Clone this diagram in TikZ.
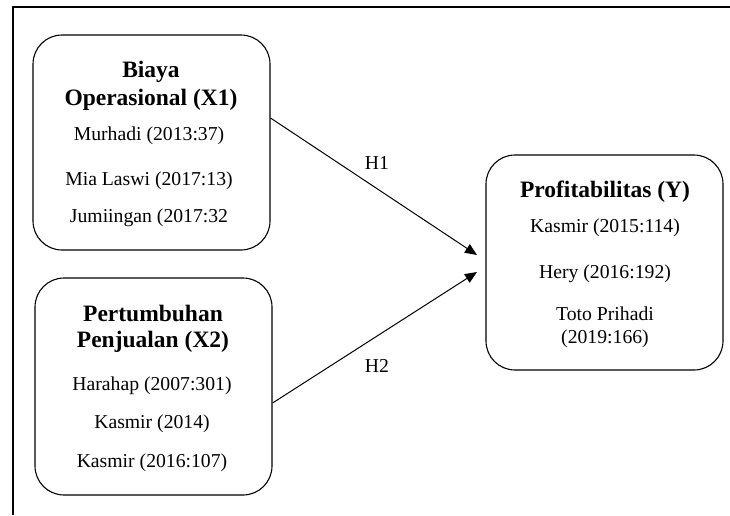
\documentclass[tikz,border=0pt]{standalone}
\usepackage{fontspec}
\setmainfont{Liberation Serif}
\usetikzlibrary{arrows.meta,calc}
\tikzset{
  box/.style={draw, line width=1.1pt, rounded corners=29pt, minimum width=237pt, inner sep=0pt},
  ttl/.style={font=\fontsize{23.5}{28}\selectfont\bfseries, inner sep=0pt},
  itm/.style={font=\fontsize{19.7}{24}\selectfont, inner sep=0pt},
  hyp/.style={font=\fontsize{19.7}{24}\selectfont, inner sep=0pt},
  link/.style={line width=1pt, -{Triangle[length=12pt,width=10pt]}}
}
\begin{document}
\begin{tikzpicture}[x=1pt,y=-1pt]
\useasboundingbox (0,0) rectangle (730,515);
\draw[line width=1.3pt] (13,515) -- (13,7) -- (730,7);
% boxes
\node[box, minimum height=215pt] (x1) at (151.5,142.5) {};
\node[box, minimum height=217pt] (x2) at (153.5,386.5) {};
\node[box, minimum height=215pt] (y) at (604.5,262.5) {};
% X1 text
\node[ttl] (x1a) at (151,72) {Biaya};
\node[ttl] (x1b) at (151,100) {Operasional (X1)};
\node[itm] (x1c) at (149,136) {Murhadi (2013:37)};
\node[itm] (x1d) at (149,181) {Mia Laswi (2017:13)};
\node[itm] (x1e) at (149,218) {Jumiingan (2017:32};
% X2 text
\node[ttl] (x2a) at (153,313) {Pertumbuhan};
\node[ttl] (x2b) at (153,342) {Penjualan (X2)};
\node[itm] (x2c) at (152,386) {Harahap (2007:301)};
\node[itm] (x2d) at (152,424) {Kasmir (2014)};
\node[itm] (x2e) at (152,463) {Kasmir (2016:107)};
% Y text
\node[ttl] (ya) at (605,192) {Profitabilitas (Y)};
\node[itm] (yb) at (605,228) {Kasmir (2015:114)};
\node[itm] (yc) at (605,274) {Hery (2016:192)};
\node[itm] (yd) at (605,314) {Toto Prihadi};
\node[itm] (ye) at (605,339) {(2019:166)};
% connectors
\coordinate (t1) at (477,255);
\coordinate (t2) at (477,272);
\draw[link] ($(x1.east)+(0,-24.5)$) -- (t1);
\draw[link] ($(x2.east)+(0,16.5)$) -- (t2);
\node[hyp] (h1) at (377,163) {H1};
\node[hyp] (h2) at (377,366) {H2};
\end{tikzpicture}
\end{document}
